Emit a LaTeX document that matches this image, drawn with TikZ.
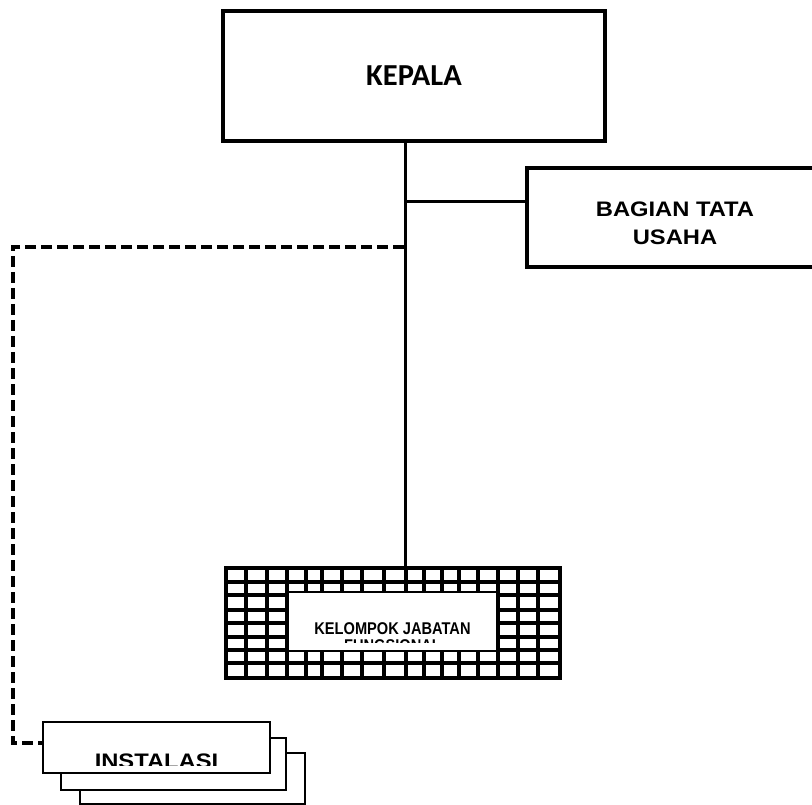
\documentclass[tikz,border=0pt]{standalone}
\usepackage{fontspec}
\usepackage{graphicx}
\setmainfont{Liberation Sans}
\newfontfamily\calib{Carlito}
\begin{document}
\begin{tikzpicture}[x=1pt,y=-1pt,
  box/.style={draw,line width=3.5pt,fill=white,inner sep=0pt},
  thinbox/.style={draw,line width=2.5pt,fill=white,inner sep=0pt},
  conn/.style={line width=3pt},
  dashconn/.style={line width=3.5pt,dash pattern=on 11pt off 5pt},
  gridline/.style={line width=4.6pt},
  lbl/.style={inner sep=0pt,font=\bfseries}]
\useasboundingbox (0,0) rectangle (812,805);

% KEPALA
\node[box,minimum width=382pt,minimum height=130pt] (kepala) at (414,76)
  {\calib\bfseries\fontsize{30.5}{36}\selectfont KEPALA};

% BAGIAN TATA USAHA
\node[box,minimum width=296pt,minimum height=99pt] (bagian) at (675,217.5) {};
\node[lbl] (bagiantext) at (675,225.4)
  {\scalebox{1.13}[1]{\fontsize{21}{28}\selectfont\begin{tabular}{@{}c@{}}BAGIAN TATA\\USAHA\end{tabular}}};

% KELOMPOK JABATAN FUNGSIONAL (grid)
\node[draw,line width=4.6pt,inner sep=0pt,minimum width=334pt,minimum height=110pt] (grid) at (393,623) {};
\foreach \x in {246,267,287,306,322,342,362,384,406,424,442,459,478,498,518,538}
  \draw[gridline] (\x,568) -- (\x,678);
\foreach \y in {582,595,610,623,637,650,663}
  \draw[gridline] (226,\y) -- (560,\y);
\node[draw,line width=2pt,fill=white,inner sep=0pt,minimum width=209pt,minimum height=59pt] (kjf) at (392.5,621.5) {};
\begin{scope}
  \clip (289,593) rectangle (496,642);
  \node[lbl] (kjftext) at (392.5,639.1)
    {\scalebox{0.86}[1]{\fontsize{17}{17}\selectfont\begin{tabular}{@{}c@{}}KELOMPOK JABATAN\\FUNGSIONAL\end{tabular}}};
\end{scope}

% INSTALASI (stack)
\node[thinbox,minimum width=225pt,minimum height=51pt] (inst3) at (192.5,778.5) {};
\node[thinbox,minimum width=225pt,minimum height=52pt] (inst2) at (173.5,764) {};
\node[thinbox,minimum width=227pt,minimum height=51pt] (inst1) at (156.5,747.5) {};
\begin{scope}
  \clip (44,723) rectangle (269,765);
  \node[lbl,anchor=base] (insttext) at (156.5,768)
    {\scalebox{1.13}[1]{\fontsize{21}{25}\selectfont INSTALASI}};
\end{scope}

% connectors
\coordinate (jx) at (405,0);
\coordinate (jb) at (405,202);
\coordinate (jd) at (404,247);
\coordinate (dc) at (13,247);
\coordinate (dl) at (13,743);
\draw[conn] (kepala.south -| jx) -- (grid.north -| jx);
\draw[conn] (jb) -- (jb -| bagian.west);
\draw[dashconn] (jd) -- (dc) -- (dl) -- (dl -| inst1.west);
\end{tikzpicture}
\end{document}
